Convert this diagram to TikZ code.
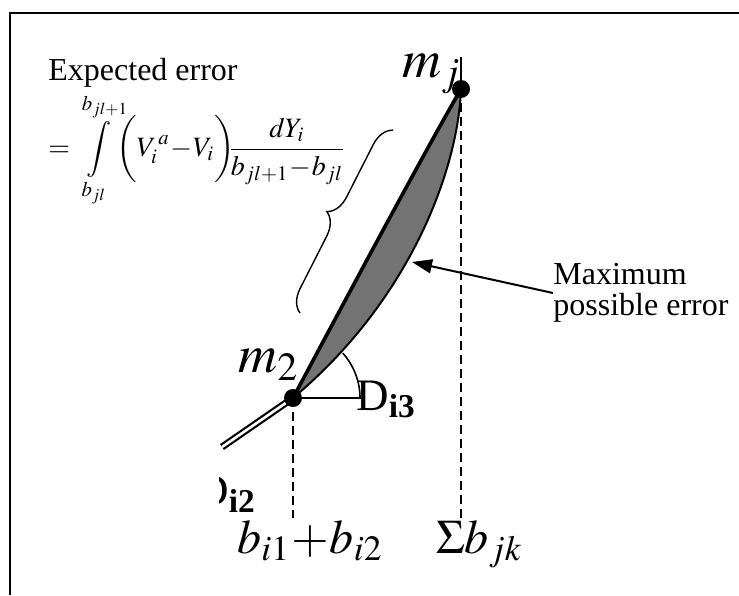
\documentclass[tikz,border=0pt]{standalone}
\usepackage{mathptmx}
\usepackage{fontspec}
\setmainfont{Liberation Serif}
\usetikzlibrary{decorations.pathreplacing,arrows.meta}

\begin{document}
\begin{tikzpicture}[x=0.5pt,y=-0.5pt]
\useasboundingbox (0,0) rectangle (739,595);
\draw[line width=1.3pt] (10,595) -- (10,13) -- (739,13);
\coordinate (p2) at (293,398);
\coordinate (pj) at (461,89);
\coordinate (lensmid) at (412,262);
\fill[black!55] (p2) .. controls (410,300) and (458,170) .. (pj) .. controls (420,160) and (340,310) .. (p2);
\draw[line width=1pt] (p2) .. controls (410,300) and (458,170) .. (pj);
\draw[line width=1.8pt] (pj) .. controls (420,160) and (340,310) .. (p2);
\draw[line width=1.1pt,double distance=1.3pt] (p2) -- (222,447);
\draw[line width=0.9pt,dash pattern=on 4.5pt off 2.5pt] (p2) -- (293,518);
\draw[line width=0.9pt,dash pattern=on 4.5pt off 2.5pt] (pj) -- (461,518);
\draw[line width=0.6pt] (pj) -- (461,57);
\draw[line width=0.8pt] (p2) -- (360,398) arc[start angle=0,end angle=-42,radius=67];
\fill (p2) circle (9);
\fill (pj) circle (9);
\draw[line width=0.7pt,decorate,decoration={brace,amplitude=11pt}] (300,313) -- (393,130);
\node[anchor=base west,inner sep=0pt,font=\fontsize{16}{19}\selectfont] (experr) at (48,80) {Expected error};
\node[anchor=west,inner sep=0pt,font=\fontsize{14}{17}\selectfont] (errint) at (48,150)
  {$\displaystyle =\int\limits_{b_{jl}}^{b_{jl+1}}\!\!\biggl(V_i^{\,a}\!-\!V_i\biggr)\!\!\frac{dY_i}{b_{jl+1}\!-\!b_{jl}}$};
\node[anchor=west,inner sep=0pt,align=left,font=\fontsize{16}{15.5}\selectfont] (maxerr) at (553,293) {Maximum\\possible error};
\draw[line width=1pt,-{Triangle[length=10pt,width=7pt]}] (maxerr.west) -- (lensmid);
\node[anchor=base west,inner sep=0pt,font=\fontsize{27}{30}\selectfont] (mjlab) at (402,77) {$m_j$};
\node[anchor=base west,inner sep=0pt,font=\fontsize{27}{30}\selectfont] (mtwolab) at (238,372) {$m_2$};
\node[anchor=base west,inner sep=0pt,font=\fontsize{22.5}{26}\selectfont] (dthree) at (356,410) {D\textsubscript{\textbf{i3}}};
\begin{scope}
\clip (219,460) rectangle (270,525);
\node[anchor=base west,inner sep=0pt,font=\fontsize{22.5}{26}\selectfont] (dtwo) at (196,505) {D\textsubscript{\textbf{i2}}};
\end{scope}
\node[anchor=base west,inner sep=0pt,font=\fontsize{24}{28}\selectfont] (bsum) at (237,553) {$b_{i1}\!+\!b_{i2}$};
\node[anchor=base west,inner sep=0pt,font=\fontsize{24}{28}\selectfont] (bjk) at (436,553) {$\Sigma b_{jk}$};
\end{tikzpicture}
\end{document}
